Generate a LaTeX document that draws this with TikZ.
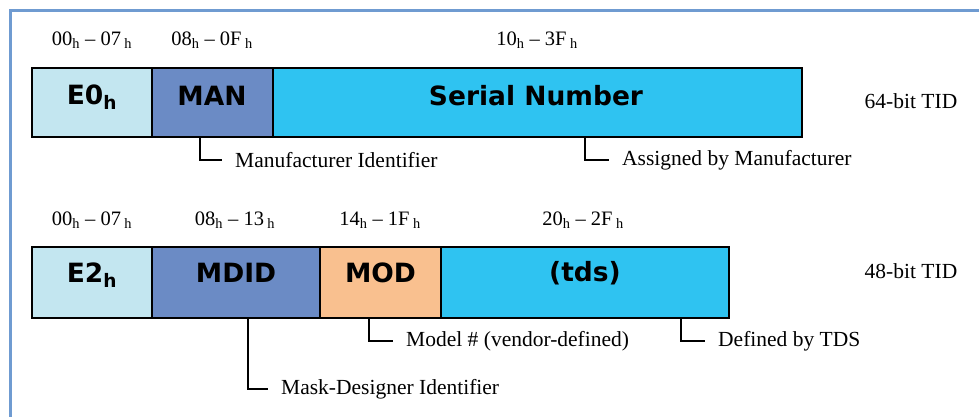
\documentclass[tikz,border=0pt]{standalone}
\usepackage{fontspec}
\setmainfont{Liberation Serif}
\newfontfamily\boxfont{DejaVu Sans}
\definecolor{frameblue}{HTML}{6F9BD1}
\definecolor{hdrcol}{HTML}{C3E6F0}
\definecolor{mancol}{HTML}{6B8BC5}
\definecolor{sercol}{HTML}{2FC3F1}
\definecolor{modcol}{HTML}{F9C08F}
\tikzset{
  field/.style={draw=black, line width=2pt, inner sep=0pt},
  fieldname/.style={inner sep=0pt, font=\boxfont\bfseries\fontsize{26.5}{30}\selectfont},
  hexrange/.style={font=\fontsize{20.5}{24}\selectfont, inner sep=0pt},
  note/.style={font=\fontsize{21.5}{25}\selectfont, anchor=west, inner xsep=13pt, inner ysep=0pt},
  lead/.style={line width=2pt, black},
  tid/.style={font=\fontsize{21.5}{25}\selectfont, inner sep=0pt}
}
\newcommand{\hexr}[2]{#1\textsubscript{h} -- #2\,\textsubscript{h}}
\begin{document}
\begin{tikzpicture}[x=1pt,y=-1pt]
\useasboundingbox (0,0) rectangle (979,416);
\begin{scope}
\clip (0,0) rectangle (979,416);
\draw[frameblue, line width=3pt] (10.5,420) -- (10.5,10.5) -- (990,10.5);
\end{scope}

% 64-bit TID layout
\node[field, fill=hdrcol, minimum width=120, minimum height=69] (e0) at (92,102.5) {};
\node[field, fill=mancol, minimum width=121, minimum height=69] (man) at (212.5,102.5) {};
\node[field, fill=sercol, minimum width=529, minimum height=69] (ser) at (537.5,102.5) {};
\node[fieldname] (e0txt) at (92,97) {E0\textsubscript{h}};
\node[fieldname] (mantxt) at (212,96) {MAN};
\node[fieldname] (sertxt) at (536,96) {Serial Number};
\node[hexrange] (r1a) at (92,40) {\hexr{00}{07}};
\node[hexrange] (r1b) at (212,40) {\hexr{08}{0F}};
\node[hexrange] (r1c) at (537,40) {\hexr{10}{3F}};
\node[tid] (t64) at (911,101) {64-bit TID};

\node[note] (manlbl) at (222,160) {Manufacturer Identifier};
\node[note] (serlbl) at (609,160) {Assigned by Manufacturer};
\draw[lead] ([xshift=-12.5]man.south) |- (manlbl.west);
\draw[lead] ([xshift=47.5]ser.south) |- (serlbl.west);

% 48-bit TID layout
\node[field, fill=hdrcol, minimum width=120, minimum height=71] (e2) at (92,282.5) {};
\node[field, fill=mancol, minimum width=168, minimum height=71] (mdid) at (236,282.5) {};
\node[field, fill=modcol, minimum width=121, minimum height=71] (mod) at (380.5,282.5) {};
\node[field, fill=sercol, minimum width=288, minimum height=71] (tds) at (585,282.5) {};
\node[fieldname] (e2txt) at (92,275) {E2\textsubscript{h}};
\node[fieldname] (mdidtxt) at (236,273) {MDID};
\node[fieldname] (modtxt) at (380.5,273) {MOD};
\node[fieldname] (tdstxt) at (585,273) {(tds)};
\node[hexrange] (r2a) at (92,220) {\hexr{00}{07}};
\node[hexrange] (r2b) at (235,220) {\hexr{08}{13}};
\node[hexrange] (r2c) at (380,220) {\hexr{14}{1F}};
\node[hexrange] (r2d) at (583,220) {\hexr{20}{2F}};
\node[tid] (t48) at (911,271) {48-bit TID};

\node[note] (mdidlbl) at (268,389) {Mask-Designer Identifier};
\node[note] (modlbl) at (393,341) {Model \# (vendor-defined)};
\node[note] (tdslbl) at (705,341) {Defined by TDS};
\draw[lead] ([xshift=12]mdid.south) |- (mdidlbl.west);
\draw[lead] ([xshift=-11.5]mod.south) |- (modlbl.west);
\draw[lead] ([xshift=96]tds.south) |- (tdslbl.west);
\end{tikzpicture}
\end{document}
